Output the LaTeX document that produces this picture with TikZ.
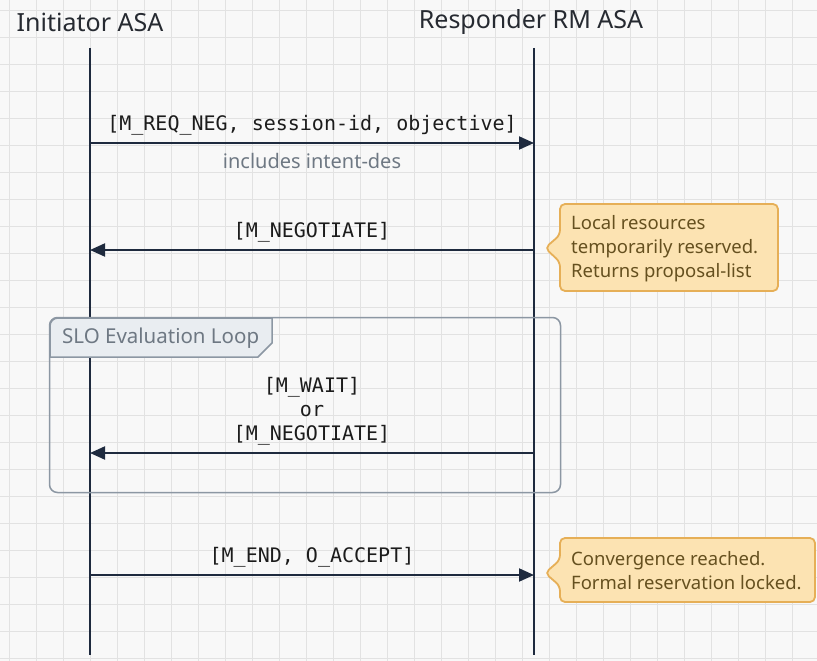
\documentclass[tikz,border=0pt]{standalone}
\usepackage{fontspec}
\setmainfont{Noto Sans}
\setmonofont{DejaVu Sans Mono}
\usetikzlibrary{arrows.meta}
\definecolor{bgc}{HTML}{F8F8F8}
\definecolor{gridc}{HTML}{E2E2E2}
\definecolor{navy}{HTML}{1E2A3E}
\definecolor{titlec}{HTML}{262A31}
\definecolor{grayt}{HTML}{6E7883}
\definecolor{loopc}{HTML}{8C97A3}
\definecolor{tabfill}{HTML}{E9EDF1}
\definecolor{notefill}{HTML}{FCE3B2}
\definecolor{noteborder}{HTML}{E6AF57}
\definecolor{notetextc}{HTML}{65501F}
\definecolor{labelc}{HTML}{1C1C1C}
\begin{document}
\begin{tikzpicture}[x=1pt,y=-1pt,
  gridline/.style={gridc, line width=0.9pt},
  lifeline/.style={navy, line width=2.4pt},
  msg/.style={navy, line width=2pt, -{Triangle[length=15pt,width=13pt]}},
  titletext/.style={font=\fontsize{25}{30}\selectfont, text=titlec, inner sep=0pt},
  msglabel/.style={font=\ttfamily\fontsize{20}{24}\selectfont, text=labelc, inner sep=0pt, align=center},
  graytext/.style={font=\fontsize{20}{24}\selectfont, text=grayt, inner sep=0pt},
  notebox/.style={fill=notefill, draw=noteborder, line width=1.8pt, rounded corners=5pt},
  notetext/.style={font=\fontsize{18.5}{24}\selectfont, text=notetextc, inner sep=0pt, align=left, anchor=west},
  loopframe/.style={draw=loopc, line width=1.5pt, rounded corners=8pt, inner sep=0pt},
  looptab/.style={fill=tabfill, draw=loopc, line width=1.5pt},
]
\useasboundingbox (0,0) rectangle (817,661);
\fill[bgc] (0,0) rectangle (817,661);
\foreach \i in {0,...,30} {
  \draw[gridline] ({9.5+27*\i},0) -- ({9.5+27*\i},661);
}
\foreach \j in {0,...,24} {
  \draw[gridline] (0,{10+27*\j}) -- (817,{10+27*\j});
}

% titles
\node[titletext] (ti) at (90,22) {Initiator ASA};
\node[titletext] (tr) at (531,22) {Responder RM ASA};

% lifelines
\coordinate (Ltop) at (90,48);
\coordinate (Lbot) at (90,655);
\coordinate (Rtop) at (534,48);
\coordinate (Rbot) at (534,655);
\draw[lifeline] (Ltop) -- (Lbot);
\draw[lifeline] (Rtop) -- (Rbot);

% loop frame
\node[loopframe, minimum width=511pt, minimum height=175pt] (loop) at (305,405) {};
\draw[looptab] (50,357) -- (50,326) arc[start angle=180, end angle=270, radius=8] -- (272,318) -- (272,343) -- (258,357) -- cycle;
\node[graytext, anchor=west, font=\fontsize{20.5}{24}\selectfont] (looplabel) at (62,338) {SLO Evaluation Loop};

% message points
\coordinate (L1) at (90,143);  \coordinate (R1) at (534,143);
\coordinate (L2) at (90,250);  \coordinate (R2) at (534,250);
\coordinate (L3) at (90,453);  \coordinate (R3) at (534,453);
\coordinate (L4) at (90,575);  \coordinate (R4) at (534,575);

\draw[msg] (L1) -- (R1);
\node[msglabel] (m1) at (312,125) {{[}M\_REQ\_NEG, session-id, objective{]}};
\node[graytext] (m1b) at (312,161) {includes intent-des};

\draw[msg] (R2) -- (L2);
\node[msglabel] (m2) at (312,232) {{[}M\_NEGOTIATE{]}};

\draw[msg] (R3) -- (L3);
\node[msglabel] (m3) at (312,411) {{[}M\_WAIT{]}\\{}or\\{}{[}M\_NEGOTIATE{]}};

\draw[msg] (L4) -- (R4);
\node[msglabel] (m4) at (312,557) {{[}M\_END, O\_ACCEPT{]}};

% notes
\draw[notebox] (560,204) -- (778,204) -- (778,291) -- (560,291) -- (560,262) -- (545,248) -- (560,235) -- cycle;
\node[notetext] (n1) at (571,249) {Local resources\\temporarily reserved.\\Returns proposal-list};

\draw[notebox] (560,538) -- (815,538) -- (815,602) -- (560,602) -- (560,586) -- (545,573) -- (560,560) -- cycle;
\node[notetext] (n2) at (571,571) {Convergence reached.\\Formal reservation locked.};
\end{tikzpicture}
\end{document}
